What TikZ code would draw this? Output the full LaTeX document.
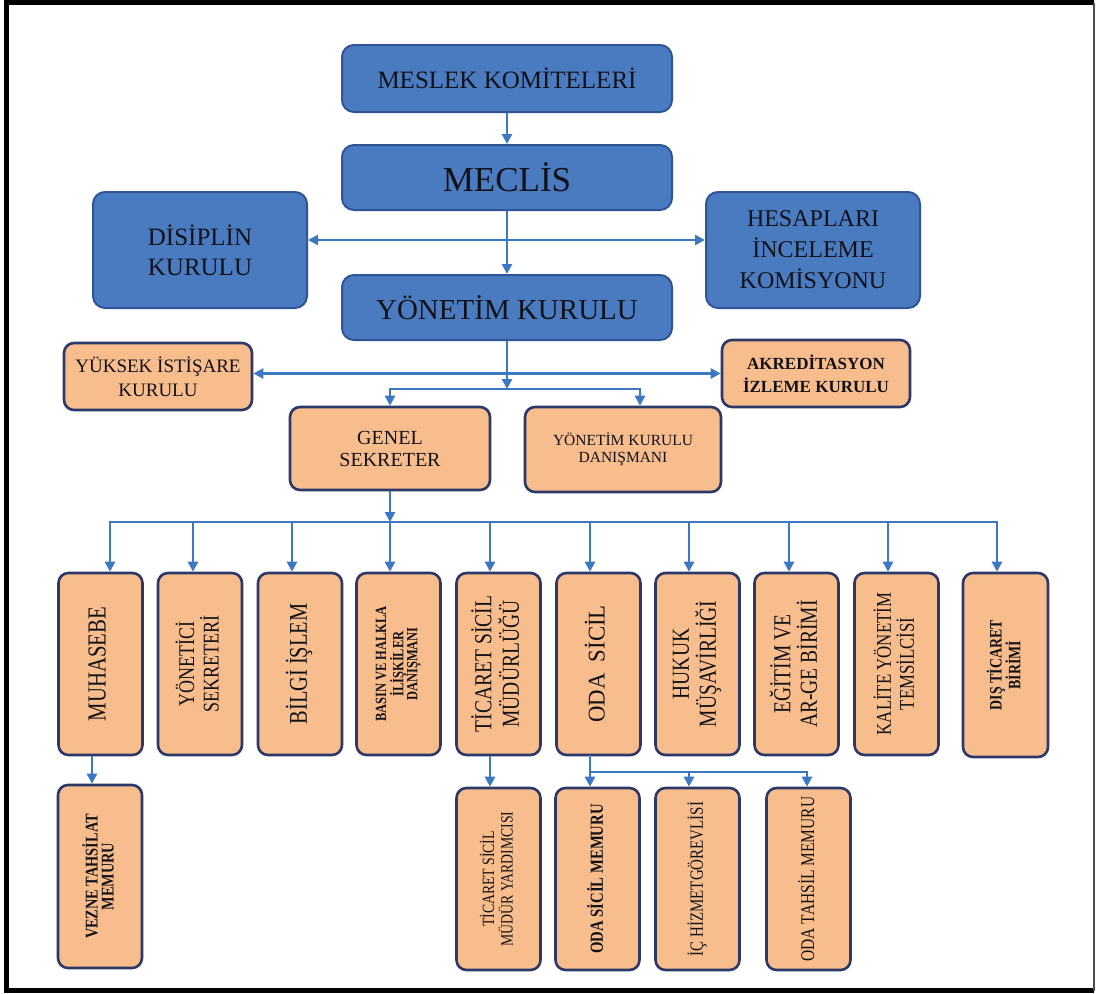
\documentclass[tikz,border=0pt]{standalone}
\usepackage{fontspec}
\setmainfont{Liberation Serif}
\usetikzlibrary{arrows.meta}
\definecolor{bluefill}{HTML}{4A7BC0}
\definecolor{blueedge}{HTML}{2F5597}
\definecolor{orfill}{HTML}{F7BD8D}
\definecolor{oredge}{HTML}{2B3868}
\definecolor{linec}{HTML}{3C78C3}
\definecolor{txt}{HTML}{111118}
\newcommand{\vt}[4][0.8]{\rotatebox{90}{\scalebox{#1}[1]{\fontsize{#2}{#3}\selectfont\begin{tabular}{@{}c@{}}#4\end{tabular}}}}
\newcommand{\vtb}[4][0.8]{\rotatebox{90}{\scalebox{#1}[1]{\fontsize{#2}{#3}\selectfont\bfseries\begin{tabular}{@{}c@{}}#4\end{tabular}}}}
\begin{document}
\begin{tikzpicture}[x=1pt,y=-1pt,
  bluebox/.style={draw=blueedge, line width=2pt, fill=bluefill, rounded corners=12pt, text=txt, align=center, inner sep=0pt},
  orbox/.style={draw=oredge, line width=2.6pt, fill=orfill, rounded corners=10pt, text=txt, align=center, inner sep=0pt},
  vbox/.style={orbox, minimum width=84pt, minimum height=182pt},
  conn/.style={draw=linec, line width=2.5pt, line cap=rect},
  arr/.style={draw=linec, line width=2.5pt, -{Triangle[length=10pt,width=10pt]}},
  darr/.style={draw=linec, line width=2.5pt, {Triangle[length=10pt,width=10pt]}-{Triangle[length=10pt,width=10pt]}}]
\useasboundingbox (0,0) rectangle (1097,993);
\fill[white] (0,0) rectangle (1097,993);
% frame
\draw[line width=5pt, black] (1094,2.5) -- (6,2.5) -- (6,990.5) -- (1094,990.5);
\draw[line width=2pt, black!70] (1094,2.5) -- (1094,990.5);

% top blue boxes
\node[bluebox, minimum width=330pt, minimum height=67pt, font=\fontsize{25}{30}\selectfont] (mes) at (507,78.5) {MESLEK KOMİTELERİ};
\node[bluebox, minimum width=330pt, minimum height=65pt, font=\fontsize{35}{40}\selectfont] (mec) at (507,177.5) {MECLİS};
\node[bluebox, minimum width=214pt, minimum height=116pt, font=\fontsize{25}{30}\selectfont] (dis) at (200,250) {DİSİPLİN\\KURULU};
\node[bluebox, minimum width=214pt, minimum height=116pt, font=\fontsize{24}{31}\selectfont] (hes) at (813,250) {HESAPLARI\\İNCELEME\\KOMİSYONU};
\node[bluebox, minimum width=330pt, minimum height=65pt, font=\fontsize{29}{34}\selectfont] (yk) at (507,307.5) {YÖNETİM KURULU};

% middle orange boxes
\node[orbox, minimum width=188pt, minimum height=67pt, font=\fontsize{19}{24}\selectfont] (yuk) at (158,376.5) {YÜKSEK İSTİŞARE\\KURULU};
\node[orbox, minimum width=188pt, minimum height=67pt, font=\fontsize{17}{23}\selectfont\bfseries] (akr) at (816,373.5) {AKREDİTASYON\\İZLEME KURULU};
\node[orbox, minimum width=200pt, minimum height=83pt, font=\fontsize{20}{22}\selectfont] (gen) at (390,448.5) {GENEL\\SEKRETER};
\node[orbox, minimum width=196pt, minimum height=85pt, font=\fontsize{15.5}{17}\selectfont] (ykd) at (623,449.5) {YÖNETİM KURULU\\DANIŞMANI};

% row 1
\node[vbox] (muh) at (100.5,664) {\vt{26}{25}{MUHASEBE}};
\node[vbox] (yse) at (200,664) {\vt{22.5}{20}{YÖNETİCİ\\SEKRETERİ}};
\node[vbox] (bil) at (300,664) {\vt{25.5}{24}{BİLGİ İŞLEM}};
\node[vbox] (bas) at (398.5,664) {\vtb{15.6}{12.5}{BASIN VE HALKLA\\İLİŞKİLER\\DANIŞMANI}};
\node[vbox] (tic) at (498.5,664) {\vt{24.4}{23}{TİCARET SİCİL\\MÜDÜRLÜĞÜ}};
\node[vbox] (oda) at (598.5,664) {\vt[0.95]{24}{26}{ODA\ \ SİCİL}};
\node[vbox] (huk) at (697.5,664) {\vt{24.4}{21}{HUKUK\\MÜŞAVİRLİĞİ}};
\node[vbox] (egi) at (796.5,664) {\vt{24.4}{21}{EĞİTİM VE\\AR-GE BİRİMİ}};
\node[vbox] (kal) at (896.5,664) {\vt{21}{19}{KALİTE YÖNETİM\\TEMSİLCİSİ}};
\node[vbox, minimum width=85pt, minimum height=184pt] (dti) at (1005.5,665) {\vtb{17.4}{13}{DIŞ TİCARET\\BİRİMİ}};

% row 2
\node[vbox, minimum height=183pt] (vez) at (100,876.5) {\vtb{17.9}{14}{VEZNE TAHSİLAT\\MEMURU}};
\node[vbox, minimum height=182pt] (tsm) at (498.5,879) {\vt{17.2}{15}{TİCARET SİCİL\\MÜDÜR YARDIMCISI}};
\node[vbox, minimum height=182pt] (osm) at (597.5,879) {\vtb{18.4}{16}{ODA SİCİL MEMURU}};
\node[vbox, minimum height=182pt] (ich) at (697.5,879) {\vt{18.7}{16}{İÇ HİZMETGÖREVLİSİ}};
\node[vbox, minimum height=182pt] (otm) at (808.5,879) {\vt{19.4}{16}{ODA TAHSİL MEMURU}};

% connectors top
\draw[arr] (mes) -- (mec);
\draw[arr] (mec) -- (yk);
\draw[darr] ([yshift=10pt]dis.east) -- ([yshift=10pt]hes.west);
\coordinate (j1) at (507,389);
\coordinate (g1) at (390,389);
\coordinate (g2) at (640,389);
\draw[arr] (yk) -- (j1);
\draw[darr] (yuk.east |- akr.west) -- (akr.west);
\draw[conn] (g1) -- (g2);
\draw[arr] (g1) -- (gen);
\draw[arr] (g2) -- (g2 |- ykd.north);
\coordinate (b0) at (390,522);
\draw[arr] (gen) -- (b0);

% bus
\coordinate (b1) at (110,522);
\coordinate (b2) at (193,522);
\coordinate (b3) at (292,522);
\coordinate (b4) at (390,522);
\coordinate (b5) at (490,522);
\coordinate (b6) at (590,522);
\coordinate (b7) at (689,522);
\coordinate (b8) at (789,522);
\coordinate (b9) at (888,522);
\coordinate (b10) at (997,522);
\draw[conn] (b1) -- (b10);
\draw[arr] (b1) -- (b1 |- muh.north);
\draw[arr] (b2) -- (b2 |- yse.north);
\draw[arr] (b3) -- (b3 |- bil.north);
\draw[arr] (b4) -- (b4 |- bas.north);
\draw[arr] (b5) -- (b5 |- tic.north);
\draw[arr] (b6) -- (b6 |- oda.north);
\draw[arr] (b7) -- (b7 |- huk.north);
\draw[arr] (b8) -- (b8 |- egi.north);
\draw[arr] (b9) -- (b9 |- kal.north);
\draw[arr] (b10) -- (b10 |- dti.north);

% row 2 connectors
\draw[arr] ([xshift=-8.5pt]muh.south) -- ([xshift=-8.5pt]muh.south |- vez.north);
\draw[arr] ([xshift=-8.5pt]tic.south) -- ([xshift=-8.5pt]tic.south |- tsm.north);
\coordinate (o1) at (590,772);
\coordinate (o2) at (689,772);
\coordinate (o3) at (807,772);
\draw[conn] ([xshift=-8.5pt]oda.south) -- (o1) -- (o3);
\draw[arr] (o1) -- (o1 |- osm.north);
\draw[arr] (o2) -- (o2 |- ich.north);
\draw[arr] (o3) -- (o3 |- otm.north);
\end{tikzpicture}
\end{document}
